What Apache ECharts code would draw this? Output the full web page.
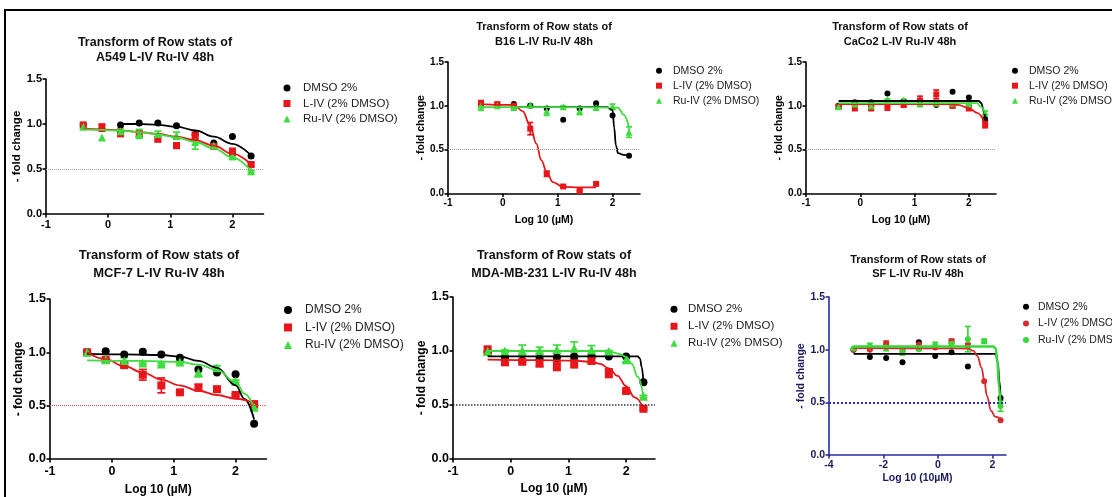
<!DOCTYPE html>
<html><head><meta charset="utf-8">
<script src="https://cdn.jsdelivr.net/npm/echarts@6/dist/echarts.min.js"></script>
<style>html,body{margin:0;padding:0;background:#fff}#c{width:1112px;height:497px}</style>
</head><body><div id="c"></div>
<script>
// ---------------- DATA ----------------
const SERIES_NAMES = ['DMSO 2%', 'L-IV (2% DMSO)', 'Ru-IV (2% DMSO)'];
const DOSES = [-0.4, -0.1, 0.2, 0.5, 0.8, 1.1, 1.4, 1.7, 2.0, 2.3];
const DOSES_SF = [-3.1, -2.5, -1.9, -1.3, -0.7, -0.1, 0.5, 1.1, 1.7, 2.3];
const Y_TICKS = [0, 0.5, 1.0, 1.5];
const X_TICKS = [-1, 0, 1, 2];
const X_TICKS_SF = [-4, -2, 0, 2];
const TITLES = [
  'Transform of Row stats of\nA549 L-IV Ru-IV 48h',
  'Transform of Row stats of\nB16 L-IV Ru-IV 48h',
  'Transform of Row stats of\nCaCo2 L-IV Ru-IV 48h',
  'Transform of Row stats of\nMCF-7 L-IV Ru-IV 48h',
  'Transform of Row stats of\nMDA-MB-231 L-IV Ru-IV 48h',
  'Transform of Row stats of\nSF L-IV Ru-IV 48h'
];
const X_NAMES = [null, 'Log 10 (µM)', 'Log 10 (µM)', 'Log 10 (µM)', 'Log 10 (µM)', 'Log 10 (10µM)'];
const Y_NAME = '- fold change';

// A549
const a549Dmso = [null, null, 0.99, 1.01, 1.01, 0.98, 0.88, 0.79, 0.86, 0.645];
const a549Liv = [0.99, 0.96, 0.89, 0.89, 0.83, 0.76, 0.87, 0.75, 0.69, 0.55];
const a549LivErr = [0.01, 0.04, 0.02, 0.03, 0.02, 0.03, 0.04, 0.02, 0.04, 0.02];
const a549Ruiv = [0.97, 0.85, 0.92, 0.89, 0.89, 0.87, 0.80, 0.76, 0.645, 0.475];
const a549RuivErr = [0.02, 0, 0.03, 0.05, 0.03, 0.04, 0.08, 0.02, 0.04, 0.01];
const a549DmsoFit = [[0.2,1.0],[0.5,1.0],[0.8,0.99],[1.1,0.97],[1.4,0.93],[1.7,0.86],[2.0,0.78],[2.3,0.65]];
const a549LivFit = [[-0.4,0.95],[-0.1,0.94],[0.2,0.93],[0.5,0.91],[0.8,0.89],[1.1,0.86],[1.4,0.82],[1.7,0.76],[2.0,0.67],[2.3,0.55]];
const a549RuivFit = [[-0.4,0.94],[-0.1,0.935],[0.2,0.925],[0.5,0.91],[0.8,0.885],[1.1,0.85],[1.4,0.80],[1.7,0.73],[2.0,0.63],[2.3,0.48]];

// B16
const b16Dmso = [null, null, 1.02, 1.0, 0.97, 0.84, 0.97, 1.03, 0.89, 0.43];
const b16Liv = [1.03, 1.02, 1.0, 0.74, 0.225, 0.08, 0.03, 0.11, null, null];
const b16LivErr = [0.03, 0.01, 0.01, 0.07, 0.03, 0.01, 0.01, 0.01, 0, 0];
const b16Ruiv = [1.0, 1.0, 0.98, 1.01, 0.94, 0.99, 0.94, 0.98, 0.99, 0.70];
const b16RuivErr = [0.05, 0, 0.02, 0.01, 0.05, 0.01, 0.04, 0.03, 0.03, 0.06];
const b16DmsoFit = [[0.2,0.985],[1.0,0.985],[1.9,0.985],[2.0,0.95],[2.03,0.75],[2.06,0.55],[2.1,0.46],[2.2,0.44],[2.3,0.435]];
const b16LivFit = [[-0.4,1.02],[0.2,1.01],[0.36,0.94],[0.5,0.77],[0.61,0.57],[0.7,0.38],[0.8,0.245],[0.91,0.13],[1.1,0.075],[1.4,0.07],[1.7,0.07]];
const b16RuivFit = [[-0.4,0.985],[1.0,0.985],[2.1,0.98],[2.2,0.9],[2.3,0.755]];

// CaCo2
const cacoDmso = [1.0, 1.04, 1.04, 1.14, 1.05, 1.04, 1.01, 1.16, 1.095, 0.85];
const cacoLiv = [0.99, 0.975, 0.975, 0.99, 1.01, 1.06, 1.13, 1.0, 0.975, 0.79];
const cacoLivErr = [0.02, 0.03, 0.03, 0.04, 0.02, 0.05, 0.05, 0.02, 0.03, 0.04];
const cacoRuiv = [0.99, 1.02, 1.0, 1.07, 1.065, 1.02, 1.03, 1.03, 1.02, 0.92];
const cacoRuivErr = [0.02, 0.01, 0.01, 0.01, 0.01, 0.01, 0.01, 0.01, 0.01, 0.02];
const cacoDmsoFit = [[-0.4,1.055],[1.0,1.055],[2.18,1.055],[2.23,1.03],[2.27,0.95],[2.3,0.86]];
const cacoLivFit = [[-0.4,1.02],[1.0,1.02],[1.6,1.02],[1.8,1.01],[2.0,0.975],[2.15,0.92],[2.3,0.8]];
const cacoRuivFit = [[-0.4,1.03],[1.0,1.03],[2.15,1.03],[2.22,0.99],[2.3,0.91]];

// MCF-7
const mcfDmso = [1.0, 1.01, 0.98, 1.005, 0.98, 0.95, 0.84, 0.81, 0.795, 0.33];
const mcfLiv = [1.0, 0.93, 0.88, 0.79, 0.69, 0.625, 0.67, 0.655, 0.60, 0.515];
const mcfLivErr = [0.01, 0.01, 0.02, 0.05, 0.07, 0.01, 0.03, 0.01, 0.01, 0.01];
const mcfRuiv = [1.0, 0.93, 0.92, 0.90, 0.89, 0.91, 0.81, 0.855, 0.73, 0.485];
const mcfRuivErr = [0.01, 0.01, 0.03, 0.01, 0.01, 0.01, 0.04, 0.02, 0.01, 0.01];
const mcfDmsoFit = [[-0.4,0.985],[0.2,0.98],[0.8,0.975],[1.1,0.96],[1.4,0.92],[1.7,0.855],[2.0,0.69],[2.15,0.56],[2.3,0.37]];
const mcfLivFit = [[-0.4,1.0],[-0.1,0.935],[0.2,0.87],[0.5,0.81],[0.8,0.745],[1.1,0.69],[1.4,0.64],[1.7,0.6],[2.0,0.565],[2.3,0.525]];
const mcfRuivFit = [[-0.4,0.925],[0.5,0.92],[1.1,0.91],[1.4,0.885],[1.7,0.835],[2.0,0.72],[2.15,0.61],[2.3,0.48]];

// MDA-MB-231
const mdaDmso = [0.99, 0.94, 0.91, 0.93, 0.94, 0.95, 0.95, 0.95, 0.95, 0.71];
const mdaLiv = [1.005, 0.895, 0.90, 0.885, 0.86, 0.885, 0.91, 0.795, 0.63, 0.465];
const mdaLivErr = [0.04, 0.02, 0.01, 0.03, 0.04, 0.04, 0.03, 0.04, 0.01, 0.01];
const mdaRuiv = [0.995, 1.0, 1.005, 1.005, 1.015, 1.025, 1.01, 0.995, 0.92, 0.58];
const mdaRuivErr = [0.01, 0.01, 0.05, 0.03, 0.04, 0.06, 0.04, 0.01, 0.02, 0.01];
const mdaDmsoFit = [[-0.4,0.95],[1.0,0.95],[2.2,0.95],[2.24,0.93],[2.27,0.85],[2.3,0.71]];
const mdaLivFit = [[-0.4,0.92],[0.5,0.915],[1.1,0.91],[1.4,0.9],[1.55,0.88],[1.7,0.84],[1.85,0.77],[2.0,0.675],[2.15,0.57],[2.3,0.47]];
const mdaRuivFit = [[-0.4,1.0],[1.0,1.0],[1.6,1.0],[1.75,0.99],[1.9,0.97],[2.0,0.945],[2.1,0.88],[2.2,0.76],[2.3,0.58]];

// SF
const sfDmso = [1.0, 0.93, 0.92, 0.88, 1.07, 0.94, 0.975, 0.84, null, 0.54];
const sfLiv = [1.0, 1.0, 1.06, 0.99, 1.05, 1.02, 1.08, 1.04, 0.70, 0.33];
const sfLivErr = [0, 0, 0.02, 0, 0, 0, 0.02, 0.02, 0, 0];
const sfRuiv = [1.01, 1.03, 1.02, 0.98, 1.005, 1.04, 1.055, 1.10, 1.08, 0.465];
const sfRuivErr = [0, 0.03, 0.03, 0.03, 0.01, 0.03, 0.03, 0.12, 0.02, 0.05];
const sfDmsoFit = [[-3.1,0.96],[0,0.96],[2.12,0.96],[2.2,0.88],[2.26,0.7],[2.3,0.55]];
const sfLivFit = [[-3.1,1.015],[0,1.013],[1.1,1.01],[1.3,0.99],[1.45,0.94],[1.6,0.83],[1.7,0.71],[1.8,0.56],[1.95,0.42],[2.1,0.365],[2.3,0.345]];
const sfRuivFit = [[-3.1,1.03],[0,1.03],[2.05,1.03],[2.12,1.01],[2.18,0.9],[2.24,0.65],[2.3,0.47]];

// ---------------- LAYOUT / STYLE ----------------
const FONT = 'Liberation Sans, Arial, sans-serif';
const BLACK = '#000000', RED = '#e8161b', GREEN = '#3fdc3f';

const PANELS = [
  { xs: DOSES, pts: [a549Dmso, a549Liv, a549Ruiv], errs: [null, a549LivErr, a549RuivErr], fits: [a549DmsoFit, a549LivFit, a549RuivFit],
    grid: {left: 46, top: 79, width: 217.5, height: 135}, xMin: -1, xTicks: X_TICKS,
    title: {cx: 155, top: 35.5, size: 12.5, lh: 15},
    legend: {mx: 287, y0: 88, pitch: 15.5, size: 11.5, iw: 7, dx: 16},
    tick: 11, xMargin: 5, yNameGap: 23, nameSize: 11.5, xNameGap: 22, sym: [7, 7, 8], cap: 7,
    icons: ['circle', 'rect', 'triangle'], axisColor: '#000', labelColor: '#000', refColor: '#999', refWidth: 1, colors: [BLACK, RED, GREEN] },
  { xs: DOSES, pts: [b16Dmso, b16Liv, b16Ruiv], errs: [null, b16LivErr, b16RuivErr], fits: [b16DmsoFit, b16LivFit, b16RuivFit],
    grid: {left: 448, top: 62, width: 192, height: 131.5}, xMin: -1, xTicks: X_TICKS,
    title: {cx: 544, top: 19, size: 11, lh: 15},
    legend: {mx: 659, y0: 70.7, pitch: 15, size: 10.5, iw: 6, dx: 14},
    tick: 10, xMargin: 5, yNameGap: 19.5, nameSize: 10.5, xNameGap: 21, sym: [6, 6, 7], cap: 6,
    icons: ['circle', 'rect', 'triangle'], axisColor: '#000', labelColor: '#000', refColor: '#999', refWidth: 1, colors: [BLACK, RED, GREEN] },
  { xs: DOSES, pts: [cacoDmso, cacoLiv, cacoRuiv], errs: [null, cacoLivErr, cacoRuivErr], fits: [cacoDmsoFit, cacoLivFit, cacoRuivFit],
    grid: {left: 806, top: 62, width: 190, height: 131.5}, xMin: -1, xTicks: X_TICKS,
    title: {cx: 900, top: 19, size: 11, lh: 15},
    legend: {mx: 1015, y0: 70.7, pitch: 15, size: 10.5, iw: 6, dx: 14},
    tick: 10, xMargin: 5, yNameGap: 20, nameSize: 10.5, xNameGap: 21, sym: [6, 6, 7], cap: 6,
    icons: ['circle', 'rect', 'triangle'], axisColor: '#000', labelColor: '#000', refColor: '#999', refWidth: 1, colors: [BLACK, RED, GREEN] },
  { xs: DOSES, pts: [mcfDmso, mcfLiv, mcfRuiv], errs: [null, mcfLivErr, mcfRuivErr], fits: [mcfDmsoFit, mcfLivFit, mcfRuivFit],
    grid: {left: 50, top: 299, width: 216.5, height: 161.7}, xMin: -1, xTicks: X_TICKS,
    title: {cx: 159, top: 246, size: 13, lh: 18.3},
    legend: {mx: 288, y0: 310, pitch: 17.5, size: 12, iw: 8, dx: 17},
    tick: 12.5, xMargin: 6, yNameGap: 19, nameSize: 12, xNameGap: 25, sym: [8, 8, 9], cap: 8,
    icons: ['circle', 'rect', 'triangle'], axisColor: '#000', labelColor: '#000', refColor: '#b55', refWidth: 1, colors: [BLACK, RED, GREEN] },
  { xs: DOSES, pts: [mdaDmso, mdaLiv, mdaRuiv], errs: [null, mdaLivErr, mdaRuivErr], fits: [mdaDmsoFit, mdaLivFit, mdaRuivFit],
    grid: {left: 453, top: 297, width: 202, height: 162}, xMin: -1, xTicks: X_TICKS,
    title: {cx: 554, top: 246, size: 12.5, lh: 18.3},
    legend: {mx: 674, y0: 309.3, pitch: 17, size: 11.5, iw: 7, dx: 14},
    tick: 12.5, xMargin: 6, yNameGap: 20.7, nameSize: 12, xNameGap: 24, sym: [8, 8, 9], cap: 8,
    icons: ['circle', 'rect', 'triangle'], axisColor: '#000', labelColor: '#000', refColor: '#333', refWidth: 1.5, colors: [BLACK, RED, GREEN] },
  { xs: DOSES_SF, pts: [sfDmso, sfLiv, sfRuiv], errs: [null, sfLivErr, sfRuivErr], fits: [sfDmsoFit, sfLivFit, sfRuivFit],
    grid: {left: 829, top: 297, width: 177, height: 158}, xMin: -4, xTicks: X_TICKS_SF,
    title: {cx: 918, top: 253.5, size: 11, lh: 13.5},
    legend: {mx: 1026, y0: 306.7, pitch: 16.7, size: 10.5, iw: 6, dx: 12},
    tick: 10.5, xMargin: 5, yNameGap: 12, nameSize: 10.5, xNameGap: 18, sym: [6, 6, 6], cap: 6,
    icons: ['circle', 'circle', 'circle'], axisColor: '#2b2ba0', labelColor: '#1a1a5c', refColor: '#2b2bb8', refWidth: 2, colors: [BLACK, '#d92b2b', '#38d838'] }
];

// ---------------- BUILD ----------------
const option = {
  backgroundColor: '#fff', animation: false,
  title: [], grid: [], xAxis: [], yAxis: [], legend: [], series: [],
  graphic: [
    {type: 'line', shape: {x1: 4, y1: 10, x2: 1112, y2: 10}, style: {stroke: '#000', lineWidth: 2}},
    {type: 'line', shape: {x1: 5, y1: 10, x2: 5, y2: 497}, style: {stroke: '#000', lineWidth: 2}}
  ]
};

function errSeries(idx, xs, ys, es, color, cap) {
  const data = [];
  xs.forEach((x, i) => { if (ys[i] != null && es[i]) data.push([x, ys[i] - es[i], ys[i] + es[i]]); });
  return {
    type: 'custom', xAxisIndex: idx, yAxisIndex: idx, silent: true, data,
    encode: {x: 0, y: [1, 2]},
    renderItem(params, api) {
      const lo = api.coord([api.value(0), api.value(1)]);
      const hi = api.coord([api.value(0), api.value(2)]);
      const s = {stroke: color, lineWidth: 1.7};
      return {type: 'group', children: [
        {type: 'line', shape: {x1: lo[0], y1: lo[1], x2: hi[0], y2: hi[1]}, style: s},
        {type: 'line', shape: {x1: lo[0] - cap / 2, y1: lo[1], x2: lo[0] + cap / 2, y2: lo[1]}, style: s},
        {type: 'line', shape: {x1: hi[0] - cap / 2, y1: hi[1], x2: hi[0] + cap / 2, y2: hi[1]}, style: s}
      ]};
    }
  };
}

PANELS.forEach((p, idx) => {
  option.title.push({
    text: TITLES[idx], left: p.title.cx, top: p.title.top, textAlign: 'center', padding: 0,
    textStyle: {fontFamily: FONT, fontWeight: 'bold', fontSize: p.title.size, lineHeight: p.title.lh, color: '#111'}
  });
  option.grid.push(Object.assign({containLabel: false}, p.grid));
  const axisLine = {show: true, lineStyle: {color: p.axisColor, width: 1.6}};
  const axisTick = {show: true, inside: false, length: 3.5, lineStyle: {color: p.axisColor, width: 1.6}};
  option.xAxis.push({
    type: 'value', gridIndex: idx, min: p.xMin, max: 2.5,
    name: X_NAMES[idx] || '', nameLocation: 'middle', nameGap: p.xNameGap,
    nameTextStyle: {fontFamily: FONT, fontWeight: 'bold', fontSize: p.nameSize, color: p.labelColor},
    axisLine: Object.assign({onZero: false}, axisLine),
    axisTick: Object.assign({customValues: p.xTicks}, axisTick),
    axisLabel: {customValues: p.xTicks, margin: p.xMargin, fontFamily: FONT, fontWeight: 'bold', fontSize: p.tick, color: p.labelColor,
      formatter: v => String(v)},
    splitLine: {show: false}
  });
  option.yAxis.push({
    type: 'value', gridIndex: idx, min: 0, max: 1.5, interval: 0.5,
    name: Y_NAME, nameLocation: 'middle', nameRotate: 90, nameGap: p.yNameGap,
    nameTextStyle: {fontFamily: FONT, fontWeight: 'bold', fontSize: p.nameSize, color: p.labelColor},
    axisLine: Object.assign({onZero: false}, axisLine),
    axisTick: Object.assign({customValues: Y_TICKS}, axisTick),
    axisLabel: {customValues: Y_TICKS, margin: 4, fontFamily: FONT, fontWeight: 'bold', fontSize: p.tick, color: p.labelColor,
      formatter: v => v.toFixed(1)},
    splitLine: {show: false}
  });
  const L = p.legend, lh = L.size + 1;
  option.legend.push({
    orient: 'vertical', left: L.mx - L.iw / 2, top: L.y0 - lh / 2, padding: 0,
    itemWidth: L.iw, itemHeight: L.iw, itemGap: L.pitch - lh, selectedMode: false,
    data: SERIES_NAMES.map((n, k) => ({name: n, icon: p.icons[k], itemStyle: {color: p.colors[k]}})),
    textStyle: {fontFamily: FONT, fontSize: L.size, lineHeight: lh, color: '#222', padding: [0, 0, 0, L.dx - L.iw / 2 - 5]}
  });
  // reference line at 0.5
  option.series.push({
    type: 'line', xAxisIndex: idx, yAxisIndex: idx, data: [], silent: true,
    markLine: {silent: true, symbol: 'none', label: {show: false}, animation: false,
      lineStyle: {type: 'dotted', color: p.refColor, width: p.refWidth}, data: [{yAxis: 0.5}]}
  });
  for (let k = 0; k < 3; k++) {
    const col = p.colors[k];
    if (p.errs[k]) option.series.push(errSeries(idx, p.xs, p.pts[k], p.errs[k], col, p.cap));
    option.series.push({
      type: 'line', name: SERIES_NAMES[k] + ' fit', xAxisIndex: idx, yAxisIndex: idx, data: p.fits[k],
      smooth: 0.4, smoothMonotone: 'x', showSymbol: false, silent: true,
      lineStyle: {color: col, width: (idx === 5 && k === 2) ? 2.5 : 1.8}
    });
    const pd = [];
    p.xs.forEach((x, i) => { if (p.pts[k][i] != null) pd.push([x, p.pts[k][i]]); });
    option.series.push({
      type: 'scatter', name: SERIES_NAMES[k], xAxisIndex: idx, yAxisIndex: idx, data: pd,
      symbol: p.icons[k], symbolSize: p.sym[k], itemStyle: {color: col, opacity: 1}, silent: true
    });
  }
});

const chart = echarts.init(document.getElementById('c'), null, {renderer: 'canvas'});
chart.setOption(option);
</script></body></html>
